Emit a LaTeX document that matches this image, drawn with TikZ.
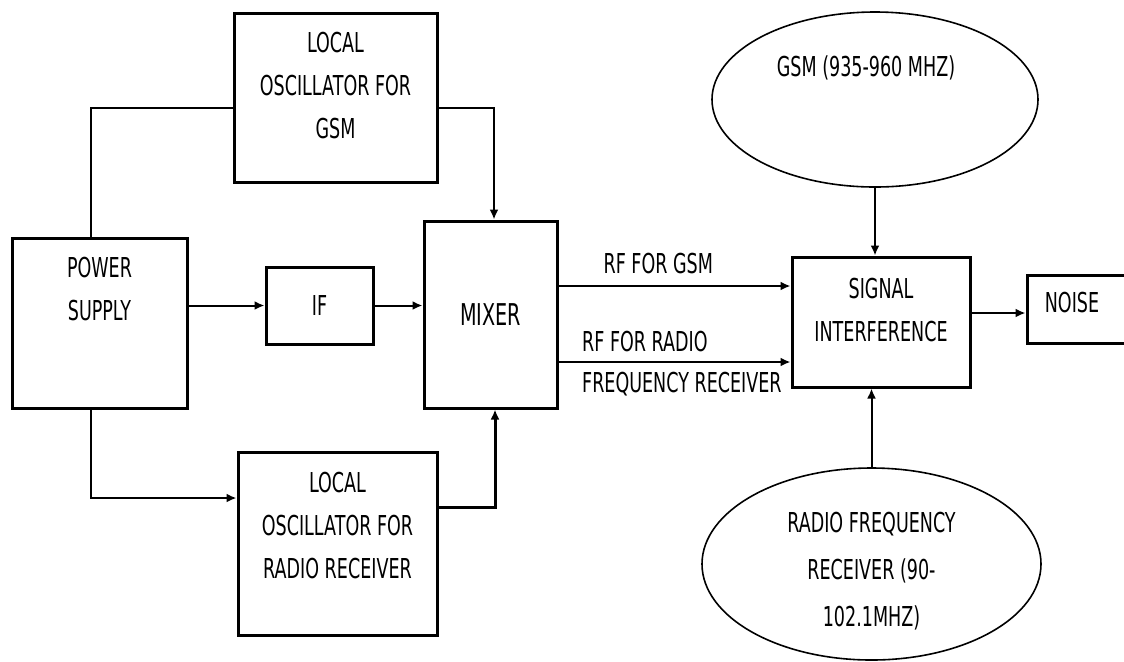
\documentclass[tikz,border=0pt]{standalone}
\usepackage{fontspec}
\setmainfont{DejaVu Sans}[FakeStretch=0.64]
\usetikzlibrary{arrows.meta,shapes.geometric}
\newcommand{\labfont}{\fontsize{13.7pt}{21.5pt}\selectfont}
\tikzset{
  blk/.style={draw, line width=1.5pt, inner sep=0pt, font=\labfont},
  oval/.style={draw, ellipse, line width=0.8pt, inner sep=0pt},
  txt/.style={align=center, font=\labfont},
  wire/.style={line width=1pt},
  link/.style={wire, -{Latex[length=5pt,width=4.5pt]}},
}
\begin{document}
\begin{tikzpicture}[x=0.5pt, y=-0.5pt]
	\useasboundingbox (0,0) rectangle (1124,661);
	\clip (0,0) rectangle (1124,661);

	%blocks
	\node[blk, minimum width=87.5pt, minimum height=85pt, label={[txt, yshift=17pt]center:POWER\\SUPPLY}] (power) at (99.5,323) {};
	\node[blk, minimum width=101.5pt, minimum height=84.5pt, label={[txt, yshift=6pt]center:LOCAL\\OSCILLATOR FOR\\GSM}] (gsmosc) at (335.5,97.5) {};
	\node[blk, minimum width=53.5pt, minimum height=38.5pt] (ifbox) at (319.5,305.5) {IF};
	\node[blk, minimum width=66.5pt, minimum height=93.5pt, font=\fontsize{15pt}{18pt}\selectfont] (mixer) at (490.5,314.5) {MIXER};
	\node[blk, minimum width=99.5pt, minimum height=91.5pt, label={[txt, yshift=9pt]center:LOCAL\\OSCILLATOR FOR\\RADIO RECEIVER}] (radosc) at (337.5,543.5) {};
	\node[blk, minimum width=89pt, minimum height=65pt, label={[txt, yshift=6pt]center:SIGNAL\\INTERFERENCE}] (sigint) at (881,322) {};
	\node[blk, minimum width=54pt, minimum height=34pt, label={[txt, xshift=-4.5pt, yshift=3pt]center:NOISE}] (noise) at (1081,309) {};

	%sources
	\node[oval, minimum width=163pt, minimum height=87.5pt, label={[txt, xshift=-4.5pt, yshift=16pt]center:GSM (935-960 MHZ)}] (gsmell) at (875,99.5) {};
	\node[oval, minimum width=169.5pt, minimum height=96pt, label={[txt, yshift=-3.5pt, font=\fontsize{13.7pt}{23.5pt}\selectfont]center:RADIO FREQUENCY\\RECEIVER (90-\\102.1MHZ)}] (radell) at (871.5,564) {};

	%left side
	\draw[wire] ([xshift=-4.25pt]power.north) |- ([yshift=-5.25pt]gsmosc.west);
	\draw[link] ([yshift=-5.25pt]gsmosc.east) -| ([xshift=1.75pt]mixer.north);
	\draw[link] (ifbox.west -| power.east) -- (ifbox.west);
	\draw[link] (ifbox.east) -- (ifbox.east -| mixer.west);
	\draw[link] ([xshift=-4.25pt]power.south) |- ([yshift=22.75pt]radosc.west);
	\draw[link, line width=1.5pt] ([yshift=18.25pt]radosc.east) -| ([xshift=2.25pt]mixer.south);

	%right side
	\draw[link] ([yshift=14.25pt]mixer.east) -- ([yshift=14.25pt]mixer.east -| sigint.west)
		node[txt, pos=0.43, above=2pt] {RF FOR GSM};
	\draw[link] ([yshift=-23.75pt]mixer.east) -- ([yshift=-23.75pt]mixer.east -| sigint.west)
		node[txt, pos=0, anchor=south west, xshift=8pt, yshift=1pt] {RF FOR RADIO}
		node[txt, pos=0, anchor=north west, xshift=8pt, yshift=-1pt] {FREQUENCY RECEIVER};
	\draw[link] (gsmell.south) -- (gsmell.south |- sigint.north);
	\draw[link] (radell.north) -- (radell.north |- sigint.south);
	\draw[link] ([yshift=4.5pt]sigint.east) -- ([yshift=4.5pt]sigint.east -| noise.west);
\end{tikzpicture}
\end{document}
